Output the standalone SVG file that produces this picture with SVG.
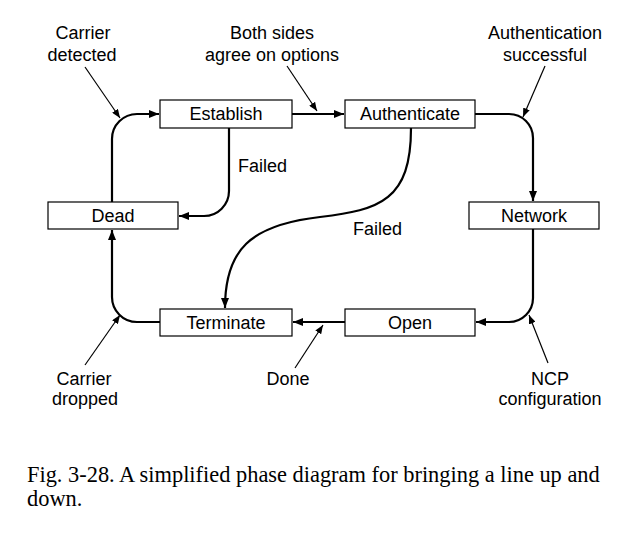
<svg xmlns="http://www.w3.org/2000/svg" width="642" height="550" viewBox="0 0 642 550">
<style>
.box{fill:#fff;stroke:#000;stroke-width:1.2}
.t{font-family:"Liberation Sans",Arial,sans-serif;font-size:18px;fill:#000;text-anchor:middle}
.tl{font-family:"Liberation Sans",Arial,sans-serif;font-size:18px;fill:#000}
.cap{font-family:"Liberation Serif","Times New Roman",serif;font-size:22.4px;fill:#000}
.c{fill:none;stroke:#000;stroke-width:2.2}
.p{fill:none;stroke:#000;stroke-width:1.2}
</style>
<defs>
<marker id="ah" viewBox="0 0 10 8" refX="10" refY="4" markerWidth="10" markerHeight="8" markerUnits="userSpaceOnUse" orient="auto">
<path d="M0,0 L10,4 L0,8 Z" fill="#000"/>
</marker>
<marker id="ap" viewBox="0 0 10 8" refX="10" refY="4" markerWidth="9" markerHeight="7" markerUnits="userSpaceOnUse" orient="auto">
<path d="M0,0 L10,4 L0,8 Z" fill="#000"/>
</marker>
</defs>
<rect width="642" height="550" fill="#fff"/>
<g id="connectors">
<path class="c" d="M112,202 V139 A25,25 0 0 1 137,114 H159" marker-end="url(#ah)"/>
<path class="c" d="M292,114 H344" marker-end="url(#ah)"/>
<path class="c" d="M475,114 H509 A24,24 0 0 1 533,138 V201" marker-end="url(#ah)"/>
<path class="c" d="M533,229 V298 A24,24 0 0 1 509,322 H476" marker-end="url(#ah)"/>
<path class="c" d="M345,322 H293" marker-end="url(#ah)"/>
<path class="c" d="M160,322 H137 A25,25 0 0 1 112,297 V230" marker-end="url(#ah)"/>
<path class="c" d="M229,128 V191 A25,25 0 0 1 204,216 H179" marker-end="url(#ah)"/>
<path class="c" d="M411,128 C411,200 380,210 320,217 C250,225 225,250 225,308" marker-end="url(#ah)"/>
<path class="p" d="M85,67 L120,118" marker-end="url(#ap)"/>
<path class="p" d="M287,66 L317,111" marker-end="url(#ap)"/>
<path class="p" d="M545,66 L523,117" marker-end="url(#ap)"/>
<path class="p" d="M548,363 L529,315" marker-end="url(#ap)"/>
<path class="p" d="M295,368 L323,325" marker-end="url(#ap)"/>
<path class="p" d="M85,365 L120,315" marker-end="url(#ap)"/>
</g>
<g id="establish"><rect class="box" x="160" y="100" width="132" height="28"/><text class="t" x="226" y="120">Establish</text></g>
<g id="authenticate"><rect class="box" x="345" y="100" width="130" height="28"/><text class="t" x="410" y="120">Authenticate</text></g>
<g id="dead"><rect class="box" x="48" y="202" width="130" height="27"/><text class="t" x="113" y="222">Dead</text></g>
<g id="network"><rect class="box" x="469" y="202" width="130" height="27"/><text class="t" x="534" y="222">Network</text></g>
<g id="terminate"><rect class="box" x="160" y="309" width="132" height="27"/><text class="t" x="226" y="329">Terminate</text></g>
<g id="open"><rect class="box" x="345" y="309" width="130" height="27"/><text class="t" x="410" y="329">Open</text></g>
<g id="labels">
<text class="t" x="83" y="39">Carrier</text>
<text class="t" x="82" y="61">detected</text>
<text class="t" x="272" y="39">Both sides</text>
<text class="t" x="272" y="61">agree on options</text>
<text class="t" x="545" y="39">Authentication</text>
<text class="t" x="545" y="61">successful</text>
<text class="tl" x="238" y="172">Failed</text>
<text class="tl" x="353" y="235">Failed</text>
<text class="t" x="84" y="385">Carrier</text>
<text class="t" x="85" y="405">dropped</text>
<text class="t" x="288" y="385">Done</text>
<text class="t" x="550" y="385">NCP</text>
<text class="t" x="550" y="405">configuration</text>
</g>
<text class="cap" x="27" y="482">Fig. 3-28. A simplified phase diagram for bringing a line up and</text>
<text class="cap" x="27" y="506">down.</text>
</svg>
